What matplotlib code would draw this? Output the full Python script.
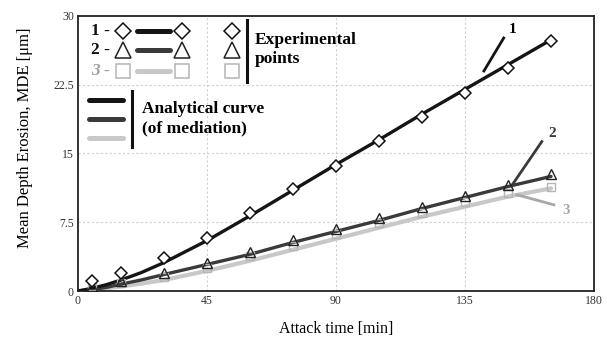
import matplotlib
matplotlib.use("Agg")
import matplotlib.pyplot as plt

plt.rcParams['font.family'] = ['Liberation Serif', 'DejaVu Serif']

# --- data ---
t_pts = [5, 15, 30, 45, 60, 75, 90, 105, 120, 135, 150, 165]
exp1 = [1.1, 2.0, 3.6, 5.8, 8.5, 11.1, 13.6, 16.4, 19.0, 21.6, 24.3, 27.3]
exp2 = [0.6, 1.1, 2.0, 3.0, 4.3, 5.6, 6.8, 8.0, 9.2, 10.4, 11.6, 12.8]
exp3 = [0.5, 0.9, 1.5, 2.5, 3.8, 4.9, 6.2, 7.4, 8.5, 9.7, 10.7, 11.3]

t_fit = [0, 5, 10, 15, 22, 30, 45, 60, 75, 90, 105, 120, 135, 150, 165]
fit1 = [0, 0.3, 0.7, 1.2, 2.0, 3.1, 5.5, 8.2, 11.0, 13.8, 16.5, 19.3, 22.0, 24.7, 27.4]
fit2 = [0, 0.15, 0.4, 0.75, 1.2, 1.8, 2.9, 4.0, 5.3, 6.5, 7.7, 9.0, 10.2, 11.4, 12.5]
fit3 = [0, 0.1, 0.3, 0.5, 0.8, 1.2, 2.2, 3.3, 4.5, 5.7, 6.9, 8.1, 9.2, 10.3, 11.2]

x_ticks = [0, 45, 90, 135, 180]
y_ticks = [0, 7.5, 15, 22.5, 30]
y_tick_labels = ['0', '7.5', '15', '22.5', '30']

c1, c2, c3 = '#151515', '#3a3a3a', '#c8c8c8'

fig = plt.figure(figsize=(6.07, 3.43), dpi=100)
ax = fig.add_axes([0.1285, 0.1516, 0.8501, 0.8018])

# grid
for xv in x_ticks[1:-1]:
    ax.axvline(xv, color='#d0d0d0', lw=0.8, ls=(0, (2, 2)), zorder=0)
for yv in y_ticks[1:-1]:
    ax.axhline(yv, color='#d0d0d0', lw=0.8, ls=(0, (2, 2)), zorder=0)

# fitted curves
ax.plot(t_fit, fit3, color=c3, lw=3.0, zorder=2, solid_capstyle='round')
ax.plot(t_fit, fit2, color=c2, lw=2.4, zorder=3, solid_capstyle='round')
ax.plot(t_fit, fit1, color=c1, lw=2.4, zorder=3, solid_capstyle='round')

# experimental points
ax.plot(t_pts, exp3, ls='none', marker='s', ms=6, mfc='none', mec='#b5b5b5', mew=1.0, zorder=4)
ax.plot(t_pts, exp2, ls='none', marker='^', ms=7, mfc='none', mec='#222222', mew=1.0, zorder=5)
ax.plot(t_pts, exp1, ls='none', marker='D', ms=6.2, mfc='white', mec='#111111', mew=1.1, zorder=5)

ax.set_xlim(0, 180)
ax.set_ylim(0, 30)
ax.set_xticks(x_ticks)
ax.set_yticks(y_ticks)
ax.set_yticklabels(y_tick_labels)
ax.tick_params(length=0, labelsize=8.5, labelcolor='#333333', pad=3)
for s in ax.spines.values():
    s.set_color('#222222')
    s.set_linewidth(1.3)

ax.set_xlabel('Attack time [min]', fontsize=11.5, labelpad=10)
ax.set_ylabel('Mean Depth Erosion, MDE [μm]', fontsize=12)
ax.yaxis.set_label_coords(-0.088, 0.556)

# curve labels
ax.plot([141.6, 148.5], [24.0, 27.6], color=c1, lw=2.0)
ax.text(151.5, 28.5, '1', fontsize=11, fontweight='bold', ha='center', va='center')
ax.plot([151.3, 161.8], [11.5, 16.3], color=c2, lw=2.0)
ax.text(165.3, 17.2, '2', fontsize=11, fontweight='bold', ha='center', va='center', color=c2)
ax.plot([153.1, 166.0], [10.5, 9.4], color='#a8a8a8', lw=2.0)
ax.text(170.2, 8.8, '3', fontsize=11, fontweight='bold', ha='center', va='center', color='#a8a8a8')

# manual legend (axes coords)
T = ax.transAxes
rows = [(0.945, '1 -', 'D', 8.5, c1, '#111111', 'normal'),
        (0.878, '2 -', '^', 11, c2, '#222222', 'normal'),
        (0.800, '3 -', 's', 9.5, c3, '#b5b5b5', 'italic')]
for fy, lab, mk, msz, lc, mc, st in rows:
    tc = '#111111' if st == 'normal' else '#a0a0a0'
    ax.text(0.025, fy, lab, transform=T, fontsize=12.5, fontweight='bold', fontstyle=st,
            color=tc, ha='left', va='center')
    ax.plot([0.088], [fy], transform=T, marker=mk, ms=msz, mfc='none', mec=mc, mew=1.1, clip_on=False)
    ax.plot([0.114, 0.178], [fy, fy], transform=T, color=lc, lw=3.6, solid_capstyle='round')
    ax.plot([0.201], [fy], transform=T, marker=mk, ms=msz, mfc='none', mec=mc, mew=1.1, clip_on=False)
    ax.plot([0.298], [fy], transform=T, marker=mk, ms=msz, mfc='none', mec=mc, mew=1.1, clip_on=False)
ax.plot([0.327, 0.327], [0.985, 0.760], transform=T, color='#111111', lw=2.2)
ax.text(0.343, 0.913, 'Experimental', transform=T, fontsize=12.5, fontweight='bold', va='center')
ax.text(0.343, 0.842, 'points', transform=T, fontsize=12.5, fontweight='bold', va='center')

for fy, lc in [(0.695, c1), (0.625, c2), (0.556, c3)]:
    ax.plot([0.021, 0.087], [fy, fy], transform=T, color=lc, lw=3.6, solid_capstyle='round')
ax.plot([0.105, 0.105], [0.727, 0.524], transform=T, color='#111111', lw=2.2)
ax.text(0.124, 0.662, 'Analytical curve', transform=T, fontsize=12.5, fontweight='bold', va='center')
ax.text(0.124, 0.593, '(of mediation)', transform=T, fontsize=12.5, fontweight='bold', va='center')

fig.savefig('out.png', dpi=100)
